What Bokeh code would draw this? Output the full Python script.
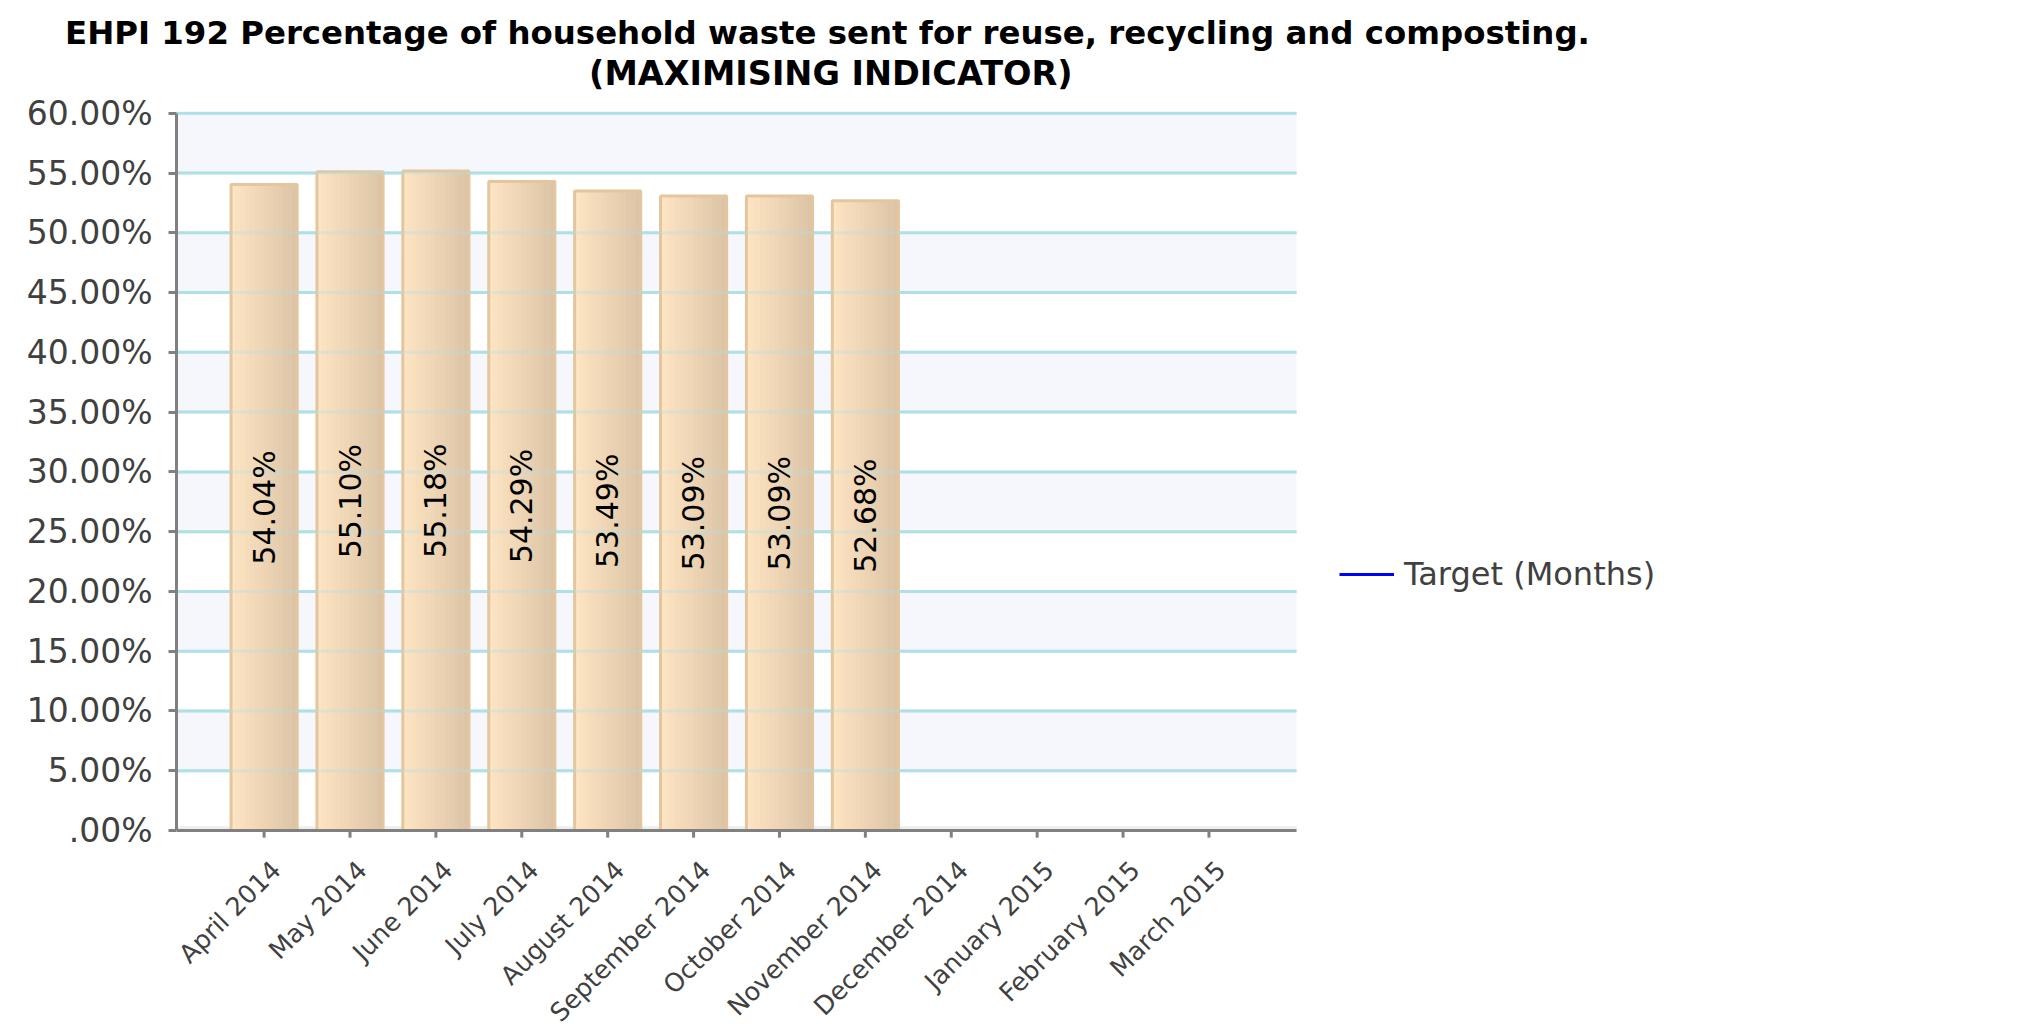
import math
from bokeh.plotting import figure
from bokeh.models import FixedTicker, Title, Legend, LegendItem, Range1d, ColumnDataSource
from bokeh.transform import dodge
from bokeh.core.properties import value
from bokeh.embed import file_html
from bokeh.resources import INLINE

NAN = float("nan")

# ---------------- data ----------------
months = ["April 2014", "May 2014", "June 2014", "July 2014", "August 2014",
          "September 2014", "October 2014", "November 2014", "December 2014",
          "January 2015", "February 2015", "March 2015"]
values = [54.04, 55.10, 55.18, 54.29, 53.49, 53.09, 53.09, 52.68]
# target series has no values in the chart (only its legend entry shows)
target_values = [NAN, NAN, NAN, NAN, NAN, NAN, NAN, NAN, NAN, NAN, NAN, NAN]
y_ticks = [0, 5, 10, 15, 20, 25, 30, 35, 40, 45, 50, 55, 60]
y_tick_labels = [".00%", "5.00%", "10.00%", "15.00%", "20.00%", "25.00%",
                 "30.00%", "35.00%", "40.00%", "45.00%", "50.00%", "55.00%",
                 "60.00%"]
title_line1 = "EHPI 192 Percentage of household waste sent for reuse, recycling and composting."
title_line2 = "(MAXIMISING INDICATOR)"
legend_label = "Target (Months)"

x_pos = list(range(len(months)))          # category positions 0..11

# ---------------- layout constants ----------------
W, H = 2017, 1029
FL, FT = 176, 111
FR = 10
FB = 0
AREA_L, AREA_R = -1.02, 12.02             # plotted area (category units)
X_END = 20.297                            # frame extends right to hold legend
Y_START, Y_END = -16.65, 60.15            # frame extends down to hold month labels
TICK_LEN = 0.6                            # x tick length (y units, ~7px)

p = figure(width=W, height=H, output_backend="svg", toolbar_location=None,
           x_range=Range1d(AREA_L, X_END), y_range=Range1d(Y_START, Y_END),
           x_axis_location=None,
           min_border_left=FL, min_border_right=FR,
           min_border_top=FT, min_border_bottom=FB)
p.outline_line_color = None
p.background_fill_color = "white"
p.border_fill_color = "white"
p.xgrid.visible = False
p.ygrid.visible = False

# ---------------- plot area: bands, floor and gridlines ----------------
band_col = "#f6f7fc"
grid_col = "#b0e0e6"
axis_col = "#808080"
lab_col = "#404040"
p.quad(left=AREA_L, right=AREA_R, bottom=y_ticks[1::2], top=y_ticks[2::2],
       fill_color=band_col, line_color=None)
p.quad(left=AREA_L, right=AREA_R, bottom=y_ticks[0], top=0.35,
       fill_color="#eeeeee", line_color=None)
p.segment(x0=AREA_L, x1=AREA_R, y0=y_ticks[1:], y1=y_ticks[1:],
          line_color=grid_col, line_width=3)

# ---------------- y axis ----------------
ya = p.yaxis[0]
ya.axis_line_color = axis_col
ya.axis_line_width = 3
ya.major_tick_line_color = axis_col
ya.major_tick_line_width = 3
ya.major_tick_in = 0
ya.major_tick_out = 8
ya.minor_tick_line_color = None
ya.major_label_text_color = lab_col
ya.major_label_text_font = "DejaVu Sans"
ya.major_label_text_font_size = "33px"
ya.major_label_standoff = 16
ya.ticker = FixedTicker(ticks=y_ticks)
ya.bounds = (y_ticks[0], y_ticks[-1])
ya.major_label_overrides = {t: s for t, s in zip(y_ticks, y_tick_labels)}

# ---------------- bars (gradient strips) ----------------
src = ColumnDataSource(dict(
    x=x_pos[:len(values)],
    val=values,
    mid=[v / 2 for v in values],
    lab=[f"{v:.2f}%" for v in values],
))

bar_w = 0.77
n_strips = 14
c0 = (0xfd, 0xe4, 0xc2)
c1 = (0xdc, 0xc5, 0xa7)
sw = bar_w / n_strips
for i in range(n_strips):
    t = i / (n_strips - 1)
    col = "#%02x%02x%02x" % tuple(int(round(a + (b - a) * t)) for a, b in zip(c0, c1))
    off = -bar_w / 2 + sw * (i + 0.5)
    p.vbar(x=dodge("x", off), top="val", bottom=0, width=sw, source=src,
           fill_color=col, line_color=col, line_width=1)

# outline of bars
p.vbar(x="x", top="val", bottom=0, width=bar_w, source=src,
       fill_color=None, line_color="#e4c69e", line_width=3)

# gridlines faintly visible through the bars
p.segment(x0=AREA_L, x1=AREA_R, y0=y_ticks[1:], y1=y_ticks[1:],
          line_color=grid_col, line_width=3, line_alpha=0.35)

# ---------------- x axis (line, ticks, rotated month labels) ----------------
p.segment(x0=AREA_L, x1=AREA_R, y0=0, y1=0, line_color=axis_col, line_width=3)
p.segment(x0=x_pos, x1=x_pos, y0=0, y1=-TICK_LEN, line_color=axis_col,
          line_width=3)
p.text(x=x_pos, y=0, text=months, angle=math.pi / 4,
       text_align="right", text_baseline="middle",
       x_offset=12, y_offset=35,
       text_font=value("DejaVu Sans"), text_font_size="25.5px",
       text_color=lab_col)

# value labels
p.text(x="x", y="mid", text="lab", source=src, angle=math.pi / 2,
       text_align="center", text_baseline="middle",
       text_font=value("DejaVu Sans"), text_font_size="30px",
       text_color="black")

# ---------------- target line + legend ----------------
target = p.line(x=x_pos, y=target_values, line_color="#0000ff", line_width=3)
leg = Legend(items=[LegendItem(label=legend_label, renderers=[target])],
             location=(1163, 436), padding=0, margin=0, spacing=0,
             glyph_width=55, glyph_height=36, label_height=36,
             label_standoff=10, border_line_color=None,
             background_fill_alpha=0,
             label_text_font="DejaVu Sans", label_text_font_size="32px",
             label_text_color=lab_col)
p.add_layout(leg)

# ---------------- title (two lines, stacked above the frame) ----------------
spacer = Title(text=" ", text_font_size="16px", standoff=0)
t2 = Title(text=title_line2, align="left", offset=412.6, standoff=0,
           text_font="DejaVu Sans", text_font_style="bold",
           text_font_size="33.5px", text_color="black")
t1 = Title(text=title_line1, align="left", offset=-111.5, standoff=0,
           text_font="DejaVu Sans", text_font_style="bold",
           text_font_size="32.4px", text_color="black")
p.title = None
p.add_layout(spacer, "above")
p.add_layout(t2, "above")
p.add_layout(t1, "above")

open("out.html", "w").write(file_html(p, INLINE))
